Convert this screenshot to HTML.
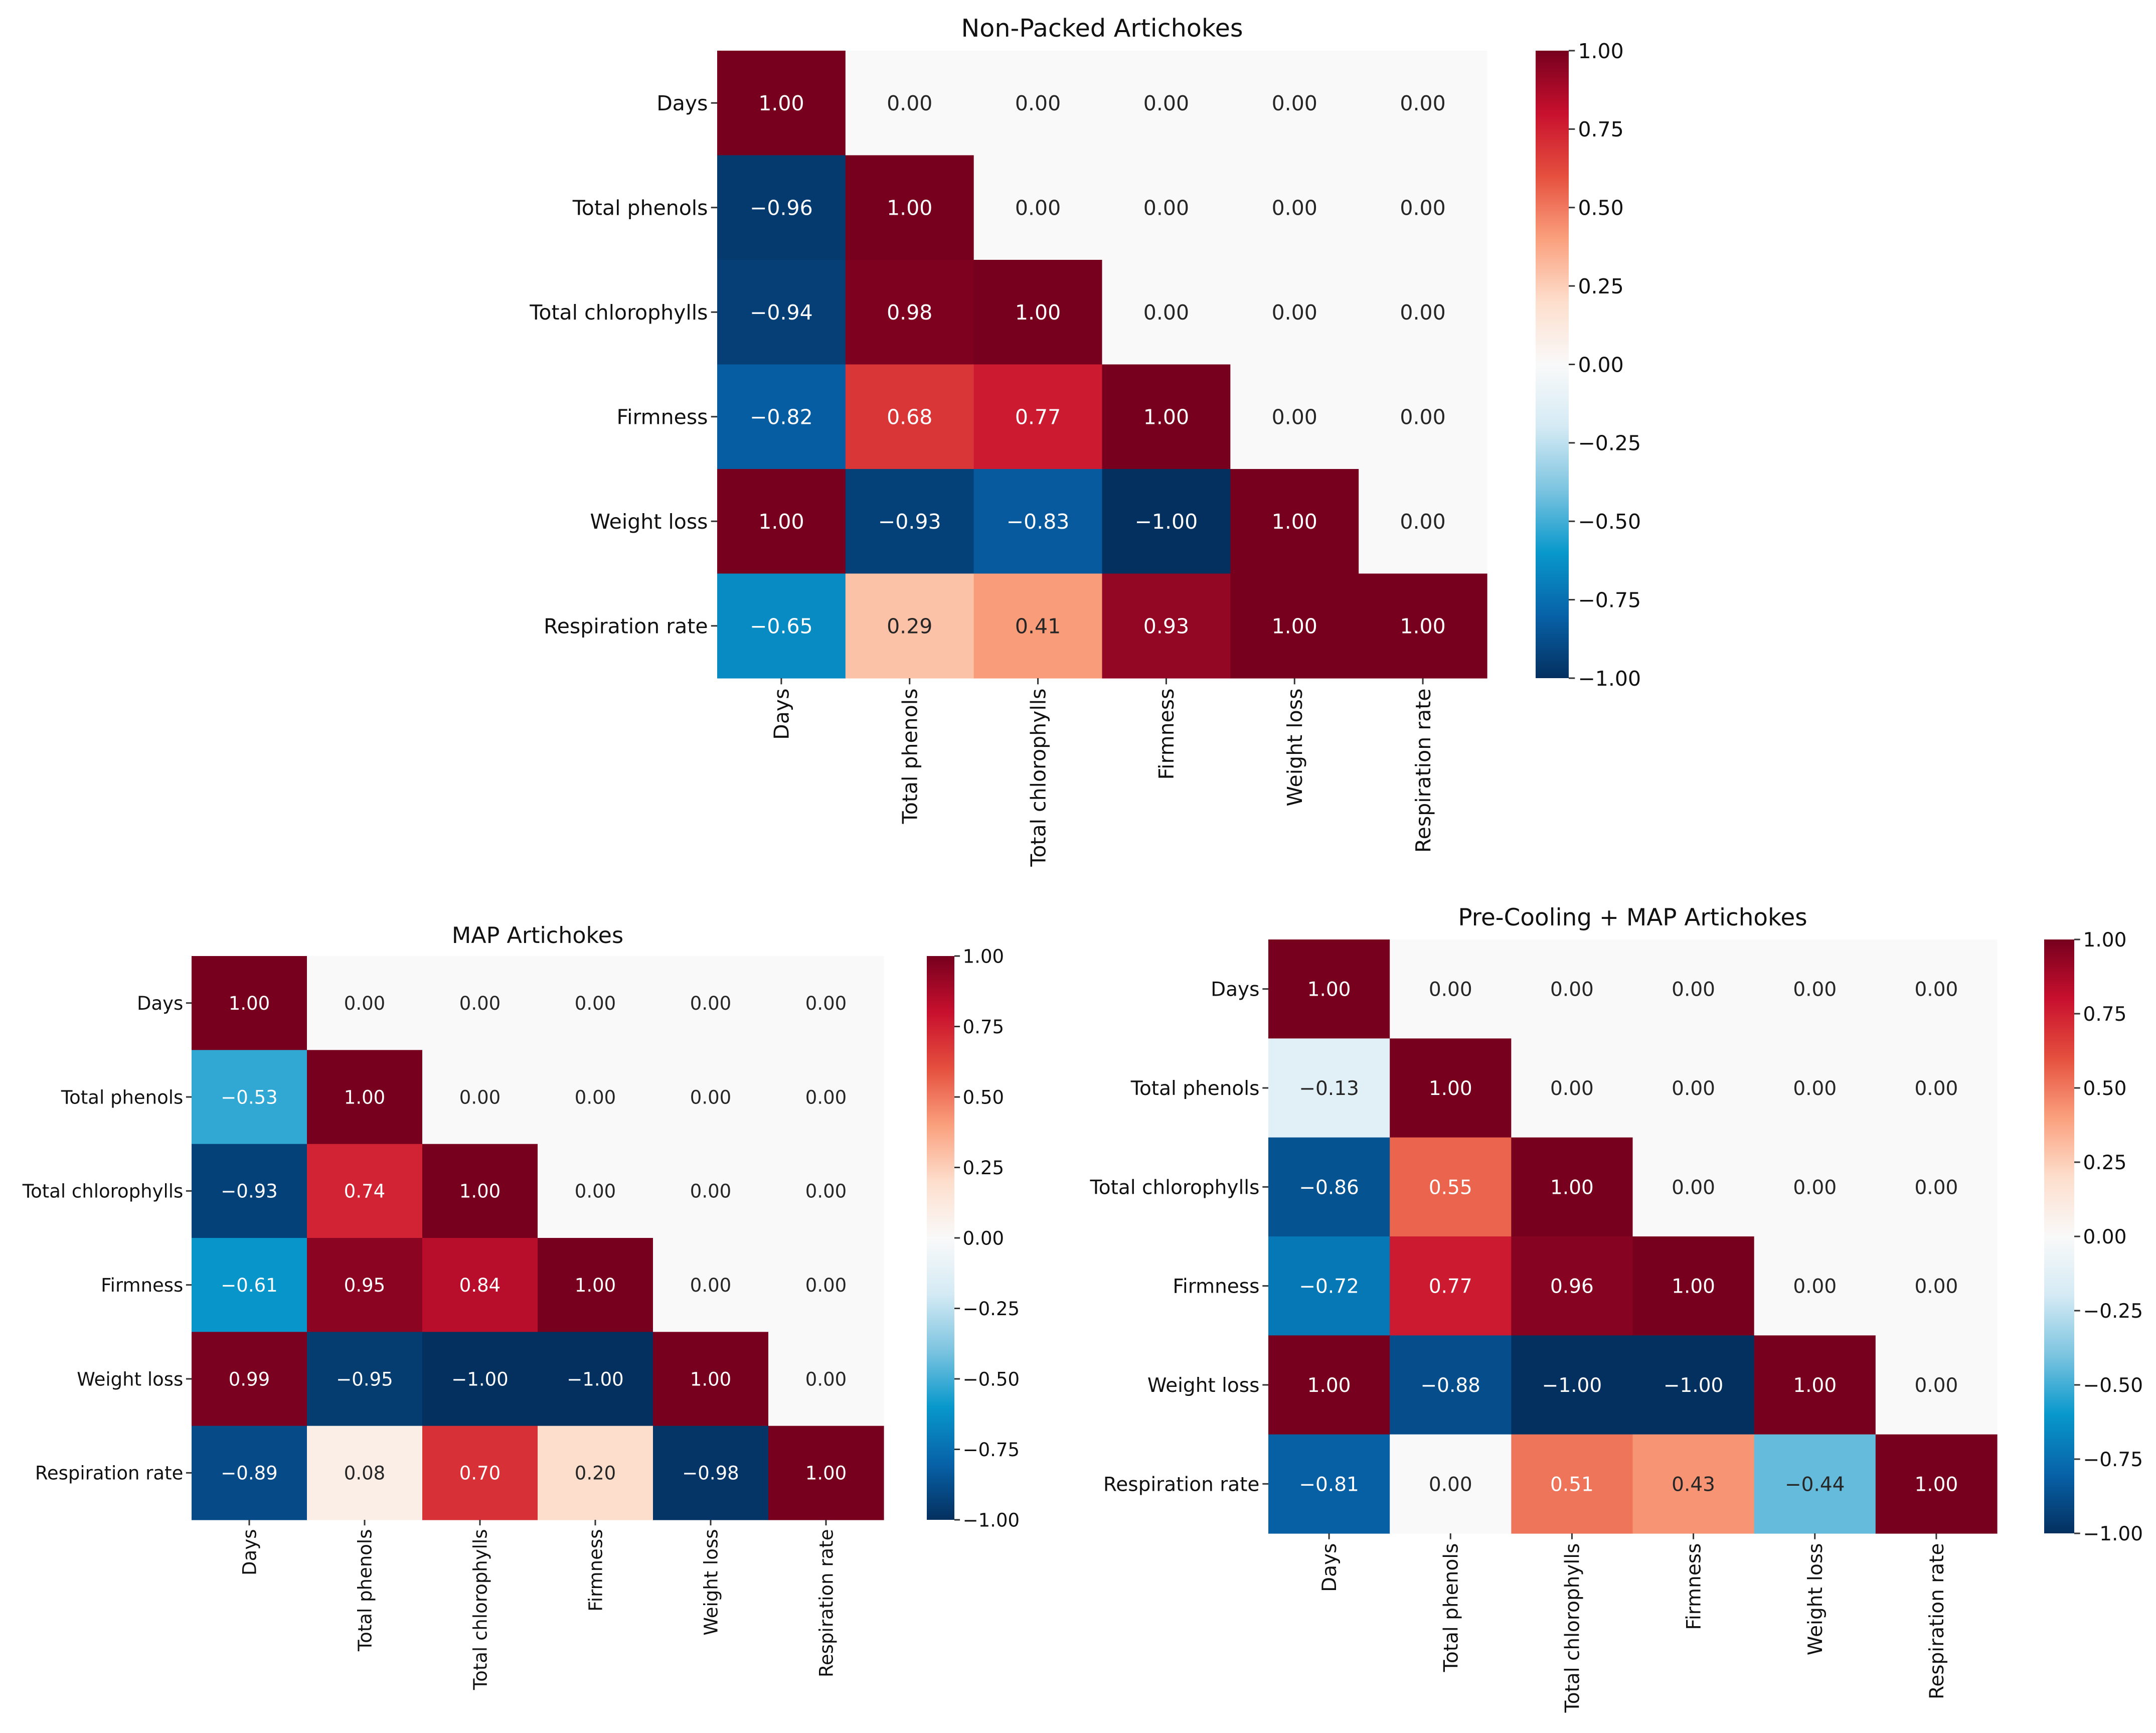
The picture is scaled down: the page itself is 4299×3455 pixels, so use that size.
<!DOCTYPE html>
<html><head><meta charset="utf-8"><style>
html,body{margin:0;padding:0;background:#fff;}
svg{display:block;font-family:"DejaVu Sans","Liberation Sans",sans-serif;}
</style></head><body>
<svg id="fig" width="4299" height="3455" viewBox="0 0 4299 3455" xmlns="http://www.w3.org/2000/svg"></svg>
<script>
const categories = ["Days","Total phenols","Total chlorophylls","Firmness","Weight loss","Respiration rate"];
const nonPackedValues = [
 [1.00,0,0,0,0,0],
 [-0.96,1.00,0,0,0,0],
 [-0.94,0.98,1.00,0,0,0],
 [-0.82,0.68,0.77,1.00,0,0],
 [1.00,-0.93,-0.83,-1.00,1.00,0],
 [-0.65,0.29,0.41,0.93,1.00,1.00]];
const mapValues = [
 [1.00,0,0,0,0,0],
 [-0.53,1.00,0,0,0,0],
 [-0.93,0.74,1.00,0,0,0],
 [-0.61,0.95,0.84,1.00,0,0],
 [0.99,-0.95,-1.00,-1.00,1.00,0],
 [-0.89,0.08,0.70,0.20,-0.98,1.00]];
const preCoolValues = [
 [1.00,0,0,0,0,0],
 [-0.13,1.00,0,0,0,0],
 [-0.86,0.55,1.00,0,0,0],
 [-0.72,0.77,0.96,1.00,0,0],
 [1.00,-0.88,-1.00,-1.00,1.00,0],
 [-0.81,0.00,0.51,0.43,-0.44,1.00]];
const colorbarTicks = [1.00,0.75,0.50,0.25,0.00,-0.25,-0.50,-0.75,-1.00];

const NS="http://www.w3.org/2000/svg";
const svg=document.getElementById('fig');
const stops=[[118,0,30],[200,16,46],[229,80,62],[250,160,125],[253,222,204],[249,249,249],[212,234,244],[124,196,224],[8,152,204],[7,98,168],[4,48,95]];
function cmap(v){
  let t=(1-v)/2*10; let i=Math.min(9,Math.floor(t)); let f=t-i;
  const a=stops[i],b=stops[i+1];
  return a.map((x,k)=>Math.round(x+(b[k]-x)*f));
}
function rgb(c){return `rgb(${c[0]},${c[1]},${c[2]})`;}
function fmt(v){const s=Math.abs(v).toFixed(2);return (v<0?'\u2212':'')+s;}
function el(tag,attrs,parent){const e=document.createElementNS(NS,tag);for(const k in attrs)e.setAttribute(k,attrs[k]);(parent||svg).appendChild(e);return e;}

function heatmap(cfg){
  const g=el('g',{});
  
  
  const n=categories.length;
  const cw=(cfg.x1-cfg.x0)/n, ch=(cfg.y1-cfg.y0)/n;
  const xs=i=>cfg.x0+i*cw, ys=j=>cfg.y0+j*ch;
  const fs=cfg.fs;
  const t=el('text',{x:(cfg.x0+cfg.x1)/2,y:cfg.y0-cfg.titleGap,'text-anchor':'middle','font-size':fs*1.2,fill:'#111'},g);
  t.textContent=cfg.title;
  
  
  cfg.values.forEach((row,j)=>row.forEach((v,i)=>{
    const c=cmap(v);
    const r=el('rect',{x:xs(i),y:ys(j),width:cw+0.6,height:ch+0.6,fill:rgb(c)},g);
    
    
    const lum=(0.299*c[0]+0.587*c[1]+0.114*c[2]);
    const tx=el('text',{x:xs(i)+cw/2,y:ys(j)+ch/2+fs*0.36,'text-anchor':'middle','font-size':fs,fill:lum<150?'#fff':'#262626'},g);
    tx.textContent=fmt(v);
    
    
  }));
  categories.forEach((name,j)=>{
    const y=ys(j)+ch/2;
    el('line',{x1:cfg.x0-fs*0.3,x2:cfg.x0,y1:y,y2:y,stroke:'#333','stroke-width':3},g);
    const l=el('text',{x:cfg.x0-fs*0.45,y:y+fs*0.36,'text-anchor':'end','font-size':fs,fill:'#111'},g);
    l.textContent=name;
    
    
  });
  categories.forEach((name,i)=>{
    const x=xs(i)+cw/2;
    el('line',{x1:x,x2:x,y1:cfg.y1,y2:cfg.y1+fs*0.3,stroke:'#333','stroke-width':3},g);
    const l=el('text',{x:0,y:0,'text-anchor':'end','font-size':fs,fill:'#111',transform:`translate(${x+fs*0.36},${cfg.y1+fs*0.5}) rotate(-90)`},g);
    l.textContent=name;
    
    
  });
  const cb=el('g',{},g);
  
  
  const id='grad'+cfg.name;
  const defs=el('defs',{},cb);
  const lg=el('linearGradient',{id:id,x1:0,y1:0,x2:0,y2:1},defs);
  for(let k=0;k<=20;k++){const v=1-k/10;el('stop',{offset:(k/20),'stop-color':rgb(cmap(v))},lg);}
  el('rect',{x:cfg.cb0,y:cfg.y0,width:cfg.cb1-cfg.cb0,height:cfg.y1-cfg.y0,fill:`url(#${id})`},cb);
  const cy=v=>cfg.y0+(1-v)/2*(cfg.y1-cfg.y0);
  colorbarTicks.forEach(v=>{
    const y=cy(v);
    el('line',{x1:cfg.cb1,x2:cfg.cb1+fs*0.3,y1:y,y2:y,stroke:'#333','stroke-width':3},cb);
    const l=el('text',{x:cfg.cb1+fs*0.45,y:y+fs*0.36,'font-size':fs,fill:'#111'},cb);
    l.textContent=fmt(v);
    
    
  });
}
heatmap({name:'non-packed-heatmap',title:'Non-Packed Artichokes',values:nonPackedValues,x0:1430,x1:2965,y0:101,y1:1352,cb0:3062,cb1:3128,fs:41,titleGap:28});
heatmap({name:'map-heatmap',title:'MAP Artichokes',values:mapValues,x0:382,x1:1762,y0:1906,y1:3030,cb0:1848,cb1:1903,fs:37,titleGap:26});
heatmap({name:'precooling-map-heatmap',title:'Pre-Cooling + MAP Artichokes',values:preCoolValues,x0:2529,x1:3982,y0:1873,y1:3057,cb0:4076,cb1:4136,fs:39,titleGap:28});
</script>
</body></html>
